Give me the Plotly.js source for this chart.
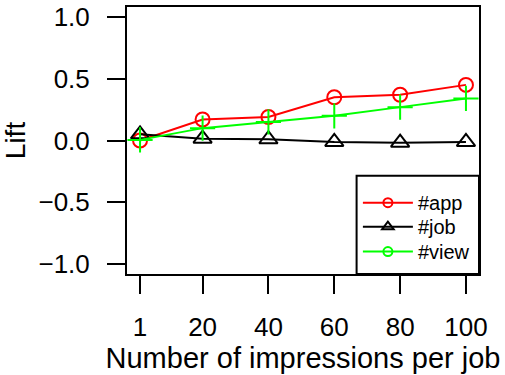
<!DOCTYPE html>
<html>
<head>
<meta charset="utf-8">
<script src="https://cdn.plot.ly/plotly-3.0.1.min.js"></script>
<style>html,body{margin:0;padding:0;background:#fff;}#chart{width:505px;height:375px;}</style>
</head>
<body>
<div id="chart"></div>
<script>
const impressions = [1, 20, 40, 60, 80, 100];
const liftApp  = [0.00, 0.17, 0.19, 0.35, 0.37, 0.45];
const liftJob  = [0.05, 0.015, 0.01, -0.012, -0.018, -0.012];
const liftView = [0.005, 0.10, 0.15, 0.20, 0.27, 0.34];
const seriesNames = ['#app', '#job', '#view'];
const yTickVals = [-1, -0.5, 0, 0.5, 1];
const yTickText = ['\u22121.0', '\u22120.5', '0.0', '0.5', '1.0'];
const xTickText = ['1', '20', '40', '60', '80', '100'];

const FONT = 'Liberation Sans, Arial, Helvetica, sans-serif';
const RED = '#ff0000', BLACK = '#000000', GREEN = '#00ff00';

const traces = [
  {x: impressions, y: liftApp, mode: 'lines+markers', showlegend: false,
   line: {color: RED, width: 2},
   marker: {symbol: 'circle-open', size: 14, color: RED, line: {color: RED, width: 2}}},
  {x: impressions, y: liftJob, mode: 'lines+markers', showlegend: false,
   line: {color: BLACK, width: 2},
   marker: {symbol: 'triangle-up-open', size: 16, color: BLACK, line: {color: BLACK, width: 2}}},
  {x: impressions, y: liftView, mode: 'lines+markers', showlegend: false,
   line: {color: GREEN, width: 2},
   marker: {symbol: 'cross-thin-open', size: 18, color: GREEN, line: {color: GREEN, width: 2}}},
  {x: [null], y: [null], name: seriesNames[0], mode: 'lines+markers', legend: 'legend',
   line: {color: RED, width: 2}, marker: {symbol: 'circle-open', size: 9, color: RED, line: {color: RED, width: 2}}},
  {x: [null], y: [null], name: seriesNames[1], mode: 'lines+markers', legend: 'legend2',
   line: {color: BLACK, width: 2}, marker: {symbol: 'triangle-up-open', size: 10, color: BLACK, line: {color: BLACK, width: 2}}},
  {x: [null], y: [null], name: seriesNames[2], mode: 'lines+markers', legend: 'legend3',
   line: {color: GREEN, width: 2}, marker: {symbol: 'circle-open', size: 9, color: GREEN, line: {color: GREEN, width: 2}}}
];

const L = 127.3, R = 479, T = 7, B = 274.5, W = 505, H = 375;
const pw = R - L, ph = B - T;

function legendAt(rowY) {
  return {
    x: (358 - L) / pw, xanchor: 'left', y: (B - (rowY - 17.5)) / ph, yanchor: 'top',
    bgcolor: 'rgba(0,0,0,0)', borderwidth: 0,
    font: {family: FONT, size: 20, color: '#000'},
    itemwidth: 50
  };
}

const layout = {
  width: W, height: H,
  margin: {l: L, r: W - R, t: T, b: H - B, pad: 0},
  paper_bgcolor: '#fff', plot_bgcolor: '#fff',
  font: {family: FONT, color: '#000'},
  showlegend: true,
  xaxis: {
    range: [-2.96, 103.96], tickvals: impressions, ticktext: xTickText,
    ticks: 'outside', ticklen: 18, tickwidth: 2, tickcolor: '#000',
    ticklabelstandoff: 11,
    showline: true, linewidth: 2, linecolor: '#000', mirror: true,
    showgrid: false, zeroline: false,
    tickfont: {family: FONT, size: 26, color: '#000'},
    title: {text: 'Number of impressions per job', font: {family: FONT, size: 29, color: '#000'}, standoff: 4}
  },
  yaxis: {
    range: [-1.08, 1.08], tickvals: yTickVals, ticktext: yTickText,
    ticks: 'outside', ticklen: 18, tickwidth: 2, tickcolor: '#000',
    ticklabelstandoff: 12,
    showline: true, linewidth: 2, linecolor: '#000', mirror: true,
    showgrid: false, zeroline: false,
    tickfont: {family: FONT, size: 26, color: '#000'},
    title: {text: 'Lift', font: {family: FONT, size: 28, color: '#000'}, standoff: 5}
  },
  shapes: [{
    type: 'rect', xref: 'paper', yref: 'paper',
    x0: (356.7 - L) / pw, x1: 1, y0: 0, y1: (B - 176) / ph,
    line: {color: '#000', width: 2}, fillcolor: '#fff', layer: 'above'
  }],
  legend: legendAt(201),
  legend2: legendAt(225),
  legend3: legendAt(250)
};

Plotly.newPlot('chart', traces, layout, {staticPlot: true, displayModeBar: false});
</script>
</body>
</html>
